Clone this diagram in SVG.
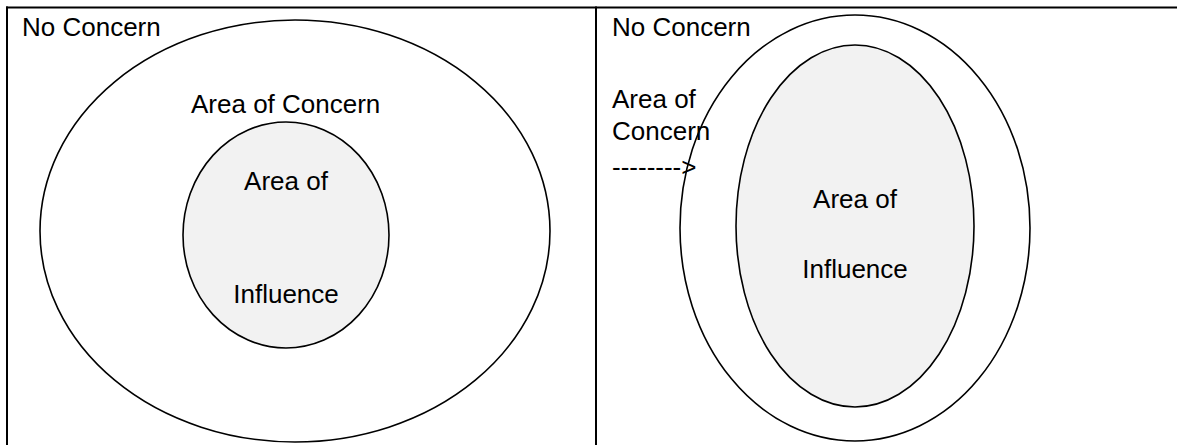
<svg xmlns="http://www.w3.org/2000/svg" width="1177" height="445" viewBox="0 0 1177 445">
<style>
.t{font-family:"Liberation Sans",Arial,sans-serif;font-size:26px;fill:#000}
.c{text-anchor:middle}
.o{fill:#fff;stroke:#000;stroke-width:1.6}
.i{fill:#f2f2f2;stroke:#000;stroke-width:1.6}
.b{stroke:#000;stroke-width:2;fill:none}
</style>
<rect width="1177" height="445" fill="#fff"/>
<g id="table">
<line class="b" x1="6" y1="7.5" x2="1177" y2="7.5"/>
<line class="b" x1="7" y1="6.5" x2="7" y2="445"/>
<line class="b" x1="596" y1="6.5" x2="596" y2="445"/>
</g>
<g id="left-concern">
<ellipse class="o" cx="295" cy="231" rx="255" ry="211"/>
<text class="t" x="22" y="36">No Concern</text>
<text class="t" x="191" y="113">Area of Concern</text>
</g>
<g id="left-influence">
<ellipse class="i" cx="286" cy="235" rx="103" ry="113"/>
<text class="t c" x="286" y="190">Area of</text>
<text class="t c" x="286" y="303">Influence</text>
</g>
<g id="right-concern">
<ellipse class="o" cx="855" cy="228" rx="175" ry="213"/>
<text class="t" x="612" y="36">No Concern</text>
<text class="t" x="612" y="108">Area of</text>
<text class="t" x="612" y="140">Concern</text>
<text class="t" x="612" y="176">--------&gt;</text>
</g>
<g id="right-influence">
<ellipse class="i" cx="855" cy="226" rx="119" ry="181"/>
<text class="t c" x="855" y="208">Area of</text>
<text class="t c" x="855" y="278">Influence</text>
</g>
<g id="connectors"></g>
</svg>
